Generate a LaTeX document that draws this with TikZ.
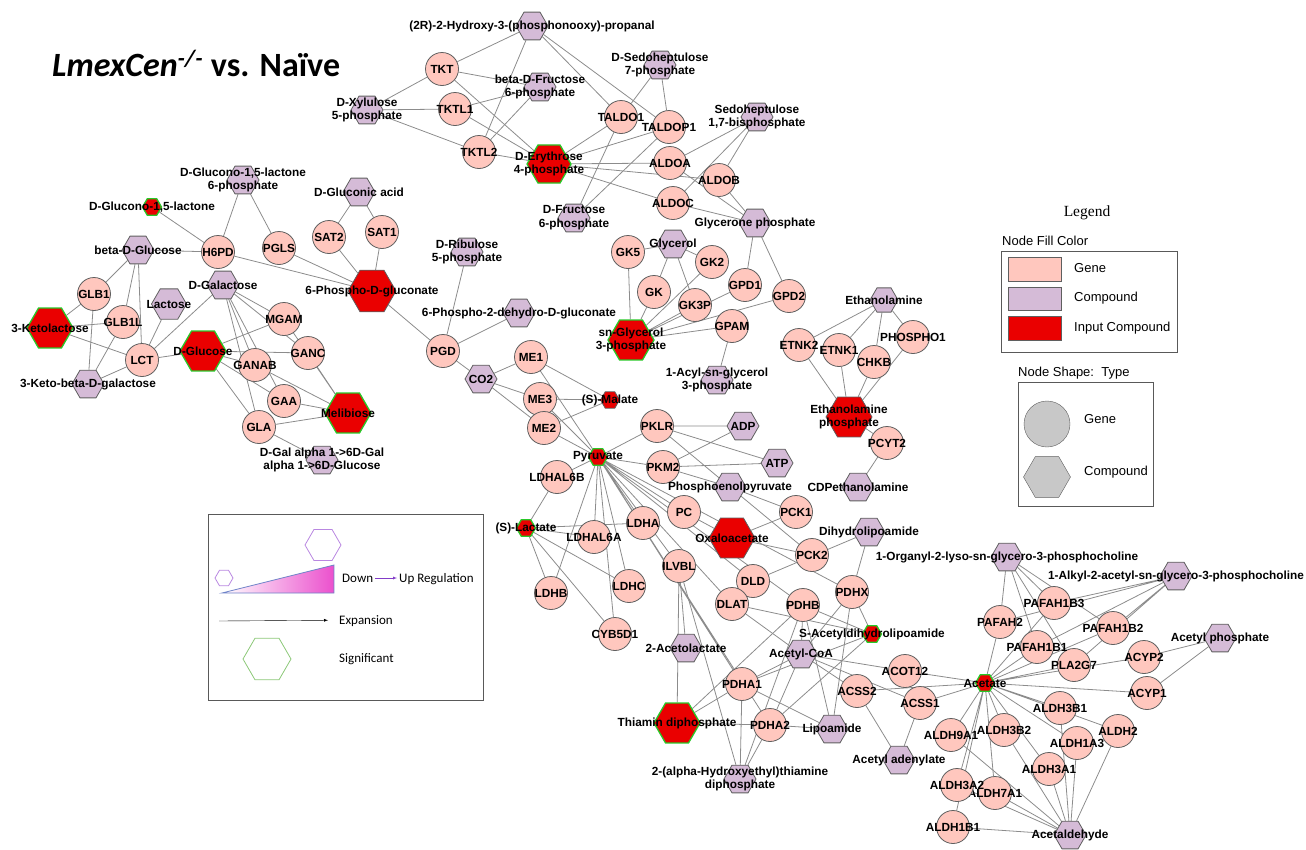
\documentclass[tikz,border=0pt]{standalone}
\usepackage{fontspec}
\setmainfont{Liberation Sans}
\newfontfamily\calibrifont{Carlito}
\newfontfamily\timesfont{Liberation Serif}
\usepackage{pgf,tikz}
\usetikzlibrary{shapes.geometric}
\usetikzlibrary{backgrounds}
\usetikzlibrary{arrows}

\definecolor{genefill}{RGB}{255,199,190}
\definecolor{cpdfill}{RGB}{213,187,215}
\definecolor{inred}{RGB}{234,0,0}
\definecolor{sigreen}{RGB}{40,200,40}
\definecolor{nodeline}{RGB}{95,95,95}
\definecolor{edgegray}{RGB}{140,140,140}
\definecolor{legviolet}{RGB}{185,135,225}
\definecolor{legpurple}{RGB}{130,60,200}
\definecolor{legblue}{RGB}{110,130,200}
\definecolor{leggreen}{RGB}{140,200,120}
\definecolor{upmagenta}{RGB}{235,80,205}
\definecolor{shapegray}{RGB}{200,200,200}

\tikzset{
  lbl/.style={font=\bfseries\fontsize{11.8}{13.8}\selectfont, align=center, inner sep=0pt},
  gene/.style={circle, draw=nodeline, fill=genefill, line width=0.8pt, minimum size=33pt, inner sep=0pt, label={[lbl]center:{#1}}},
  cpd/.style={regular polygon, regular polygon sides=6, draw=nodeline, fill=cpdfill, line width=0.8pt, minimum size=32pt, inner sep=0pt, label={[lbl]center:{#1}}},
  input/.style={cpd={#1}, fill=inred, minimum size=46pt},
  small/.style={minimum size=19pt},
  sig/.style={draw=sigreen, line width=1.3pt},
  edge/.style={draw=edgegray, line width=0.8pt},
  legtxt/.style={font=\fontsize{13}{15}\selectfont, inner sep=0pt, anchor=west, text height=9.3pt, text depth=0pt},
  keytxt/.style={font=\calibrifont\fontsize{13}{15}\selectfont, inner sep=0pt, anchor=west, text height=8.4pt, text depth=0pt},
  legbox/.style={draw=gray!70!black, line width=0.8pt},
}

\begin{document}
\begin{tikzpicture}[x=1pt, y=-1pt]
\useasboundingbox (0,0) rectangle (1306,849);
\node[anchor=base west, inner sep=0pt, font=\calibrifont\bfseries\fontsize{34}{38}\selectfont] (title) at (52,76) {\textit{LmexCen\textsuperscript{-/-}} vs. Naïve};

% pentose phosphate part
\node[cpd={(2R)-2-Hydroxy-3-(phosphonooxy)-propanal}] (prop) at (532,26) {};
\node[gene=TKT] (tkt) at (442,69) {};
\node[cpd={beta-D-Fructose\\6-phosphate}] (bfru) at (540,87) {};
\node[cpd={D-Xylulose\\5-phosphate}] (xyl) at (367,110) {};
\node[gene=TKTL1] (tktl1) at (455,109) {};
\node[gene=TKTL2] (tktl2) at (479,152) {};
\node[cpd={D-Sedoheptulose\\7-phosphate}] (s7p) at (660,65) {};
\node[gene=TALDO1] (taldo1) at (621,117) {};
\node[gene=TALDOP1] (taldop1) at (669,127) {};
\node[input={D-Erythrose\\4-phosphate}, sig, minimum size=44pt] (e4p) at (549,164) {};
\node[cpd={Sedoheptulose\\1,7-bisphosphate}] (sbp) at (757,117) {};
\node[gene=ALDOA] (aldoa) at (670,163) {};
\node[gene=ALDOB] (aldob) at (719,180) {};
\node[gene=ALDOC] (aldoc) at (673,203) {};
\node[cpd={D-Fructose\\6-phosphate}] (f6p) at (574,218) {};
\node[cpd={Glycerone phosphate}] (dhap) at (755,223) {};

% glycerol part
\node[cpd=Glycerol] (glyc) at (673,244) {};
\node[gene=GK5] (gk5) at (628,252) {};
\node[gene=GK2] (gk2) at (712,262) {};
\node[gene=GPD1] (gpd1) at (745,285) {};
\node[gene=GK] (gk) at (654,292) {};
\node[gene=GK3P] (gk3p) at (695,305) {};
\node[gene=GPD2] (gpd2) at (789,296) {};
\node[gene=GPAM] (gpam) at (732,326) {};
\node[input={sn-Glycerol\\3-phosphate}, sig] (g3p) at (631,340) {};
\node[cpd={1-Acyl-sn-glycerol\\3-phosphate}] (acyl) at (717,380) {};

% sugars
\node[cpd={D-Glucono-1,5-lactone\\6-phosphate}] (gdl6p) at (243,180) {};
\node[input={D-Glucono-1,5-lactone}, sig, small] (gdl) at (152,207) {};
\node[cpd=beta-D-Glucose] (bglc) at (138,250) {};
\node[gene=H6PD] (h6pd) at (218,252) {};
\node[gene=PGLS] (pgls) at (279,248) {};
\node[cpd={D-Gluconic acid}] (gluc) at (359,192) {};
\node[gene=SAT2] (sat2) at (329,237) {};
\node[gene=SAT1] (sat1) at (382,232) {};
\node[cpd={D-Ribulose\\5-phosphate}] (rib) at (467,252) {};
\node[input=6-Phospho-D-gluconate, minimum size=48pt] (pg6) at (372,291) {};
\node[cpd=D-Galactose] (gal) at (223,285) {};
\node[gene=GLB1] (glb1) at (94,294) {};
\node[cpd=Lactose, minimum size=35pt] (lac) at (169,304) {};
\node[gene=GLB1L] (glb1l) at (123,322) {};
\node[gene=MGAM] (mgam) at (284,319) {};
\node[input=3-Ketolactose, sig] (kl) at (50,328) {};
\node[gene=LCT] (lct) at (142,360) {};
\node[gene=GANC] (ganc) at (308,353) {};
\node[gene=GANAB] (ganab) at (255,365) {};
\node[input=D-Glucose, sig] (glc) at (203,351) {};
\node[cpd=3-Keto-beta-D-galactose] (kbg) at (88,384) {};
\node[gene=GAA] (gaa) at (284,401) {};
\node[gene=GLA] (gla) at (259,427) {};
\node[input=Melibiose, sig] (mel) at (348,413) {};
\node[cpd={D-Gal alpha 1->6D-Gal\\alpha 1->6D-Glucose}] (gga) at (322,460) {};

% pyruvate part
\node[gene=PGD] (pgd) at (443,351) {};
\node[cpd=6-Phospho-2-dehydro-D-gluconate] (pdg) at (519,313) {};
\node[cpd=CO2] (co2) at (481,379) {};
\node[gene=ME1] (me1) at (531,357) {};
\node[gene=ME3] (me3) at (540,399) {};
\node[gene=ME2] (me2) at (544,428) {};
\node[input=(S)-Malate, small] (mal) at (610,400) {};
\node[gene=PKLR] (pklr) at (657,426) {};
\node[cpd=ADP] (adp) at (743,426) {};
\node[gene=PKM2] (pkm2) at (663,467) {};
\node[cpd=ATP] (atp) at (777,463) {};
\node[cpd=Phosphoenolpyruvate] (pep) at (730,487) {};
\node[gene=LDHAL6B] (ldhal6b) at (557,477) {};
\node[input=Pyruvate, sig, small] (pyr) at (598,457) {};
\node[gene=PC] (pc) at (684,512) {};
\node[gene=PCK1] (pck1) at (796,512) {};
\node[gene=LDHA] (ldha) at (643,523) {};
\node[gene=LDHAL6A] (ldhal6a) at (594,537) {};
\node[input=(S)-Lactate, sig, small] (lacs) at (526,528) {};
\node[input=Oxaloacetate] (oaa) at (732,538) {};
\node[cpd=Dihydrolipoamide] (dhl) at (869,532) {};
\node[gene=PCK2] (pck2) at (812,555) {};
\node[gene=ILVBL] (ilvbl) at (679,566) {};
\node[gene=LDHC] (ldhc) at (629,586) {};
\node[gene=LDHB] (ldhb) at (551,593) {};
\node[gene=DLD] (dld) at (753,581) {};
\node[gene=DLAT] (dlat) at (732,604) {};
\node[gene=PDHB] (pdhb) at (803,605) {};
\node[gene=PDHX] (pdhx) at (852,592) {};
\node[gene=CYB5D1] (cyb) at (615,634) {};
\node[cpd=2-Acetolactate] (acl) at (686,648) {};
\node[cpd=Acetyl-CoA] (acoa) at (801,654) {};
\node[input=S-Acetyldihydrolipoamide, sig, small] (sadl) at (872,634) {};
\node[gene=PDHA1] (pdha1) at (742,684) {};
\node[gene=PDHA2] (pdha2) at (770,725) {};
\node[input=Thiamin diphosphate, sig] (tpp) at (677,723) {};
\node[cpd=Lipoamide] (lipo) at (832,729) {};
\node[cpd={2-(alpha-Hydroxyethyl)thiamine\\diphosphate}] (hetpp) at (740,779) {};

% ethanolamine part
\node[cpd=Ethanolamine, minimum size=28pt] (etn) at (884,300) {};
\node[gene=ETNK2] (etnk2) at (799,345) {};
\node[gene=ETNK1] (etnk1) at (839,350) {};
\node[gene=PHOSPHO1] (phospho1) at (913,337) {};
\node[gene=CHKB] (chkb) at (874,362) {};
\node[input={Ethanolamine\\phosphate}] (etp) at (849,417) {};
\node[gene=PCYT2] (pcyt2) at (887,443) {};
\node[cpd=CDPethanolamine] (cdp) at (858,487) {};

% acetate part
\node[gene=ACOT12] (acot12) at (905,671) {};
\node[gene=ACSS2] (acss2) at (857,691) {};
\node[gene=ACSS1] (acss1) at (920,703) {};
\node[cpd=Acetyl adenylate] (aad) at (899,760) {};
\node[cpd=1-Organyl-2-lyso-sn-glycero-3-phosphocholine] (org) at (1007,557) {};
\node[cpd=1-Alkyl-2-acetyl-sn-glycero-3-phosphocholine] (alk) at (1176,576) {};
\node[gene=PAFAH2] (pafah2) at (1000,622) {};
\node[gene=PAFAH1B3] (pafah1b3) at (1054,603) {};
\node[gene=PAFAH1B2] (pafah1b2) at (1113,628) {};
\node[gene=PLA2G7] (pla2g7) at (1074,665) {};
\node[gene=PAFAH1B1] (pafah1b1) at (1037,647) {};
\node[cpd=Acetyl phosphate] (acp) at (1220,638) {};
\node[gene=ACYP2] (acyp2) at (1144,657) {};
\node[gene=ACYP1] (acyp1) at (1147,693) {};
\node[input=Acetate, sig, small] (ac) at (985,683) {};
\node[gene=ALDH3B1] (aldh3b1) at (1060,708) {};
\node[gene=ALDH2] (aldh2) at (1118,731) {};
\node[gene=ALDH1A3] (aldh1a3) at (1077,743) {};
\node[gene=ALDH9A1] (aldh9a1) at (951,735) {};
\node[gene=ALDH3B2] (aldh3b2) at (1004,730) {};
\node[gene=ALDH3A1] (aldh3a1) at (1049,769) {};
\node[gene=ALDH7A1] (aldh7a1) at (995,793) {};
\node[gene=ALDH3A2] (aldh3a2) at (957,785) {};
\node[gene=ALDH1B1] (aldh1b1) at (953,827) {};
\node[cpd=Acetaldehyde] (acald) at (1070,835) {};

% connectors
\begin{scope}[on background layer]
\draw[edge] (prop) -- (tkt) (prop) -- (tktl2) (prop) -- (taldo1) (prop) -- (taldop1);
\draw[edge] (xyl) -- (tkt) (xyl) -- (tktl1) (xyl) -- (tktl2);
\draw[edge] (bfru) -- (tkt) (bfru) -- (tktl1) (bfru) -- (tktl2);
\draw[edge] (e4p) -- (tkt) (e4p) -- (tktl1) (e4p) -- (tktl2) (e4p) -- (taldo1) (e4p) -- (taldop1)
  (e4p) -- (aldoa) (e4p) -- (aldob) (e4p) -- (aldoc);
\draw[edge] (s7p) -- (taldo1) (s7p) -- (taldop1) (f6p) -- (taldo1) (f6p) -- (taldop1);
\draw[edge] (sbp) -- (aldoa) (sbp) -- (aldob) (sbp) -- (aldoc);
\draw[edge] (dhap) -- (aldoa) (dhap) -- (aldob) (dhap) -- (aldoc) (dhap) -- (gpd1) (dhap) -- (gpd2);
\draw[edge] (glyc) -- (gk5) (glyc) -- (gk) (glyc) -- (gk2) (glyc) -- (gk3p);
\draw[edge] (g3p) -- (gk5) (g3p) -- (gk) (g3p) -- (gk2) (g3p) -- (gk3p) (g3p) -- (gpd1)
  (g3p) -- (gpd2) (g3p) -- (gpam) (acyl) -- (gpam);
\draw[edge] (gdl) -- (h6pd) (gdl6p) -- (h6pd) (gdl6p) -- (pgls) (bglc) -- (h6pd);
\draw[edge] (pg6) -- (h6pd) (pg6) -- (pgls) (pg6) -- (sat2) (pg6) -- (sat1) (pg6) -- (pgd)
  (gluc) -- (sat2) (gluc) -- (sat1);
\draw[edge] (bglc) -- (glb1) (bglc) -- (glb1l) (bglc) -- (lct);
\draw[edge] (kl) -- (glb1) (kl) -- (glb1l) (kl) -- (lct);
\draw[edge] (kbg) -- (glb1) (kbg) -- (glb1l) (kbg) -- (lct);
\draw[edge] (lac) -- (lct) (gal) -- (lct) (glc) -- (lct);
\draw[edge] (gal) -- (mgam) (gal) -- (ganc) (gal) -- (ganab) (gal) -- (gaa) (gal) -- (gla);
\draw[edge] (glc) -- (mgam) (glc) -- (ganc) (glc) -- (ganab) (glc) -- (gaa) (glc) -- (gla);
\draw[edge] (mel) -- (mgam) (mel) -- (ganc) (mel) -- (ganab) (mel) -- (gaa) (mel) -- (gla);
\draw[edge] (gga) -- (gla);
\draw[edge] (pgd) -- (rib) (pgd) -- (pdg) (pgd) -- (co2);
\draw[edge] (co2) -- (me1) (co2) -- (me3) (co2) -- (me2);
\draw[edge] (mal) -- (me1) (mal) -- (me3) (mal) -- (me2);
\draw[edge] (pyr) -- (me1) (pyr) -- (me3) (pyr) -- (me2) (pyr) -- (pklr) (pyr) -- (pkm2)
  (pyr) -- (ldhal6b) (pyr) -- (ldhal6a) (pyr) -- (ldha) (pyr) -- (ldhb) (pyr) -- (ldhc)
  (pyr) -- (cyb) (pyr) -- (pc) (pyr) -- (ilvbl) (pyr) -- (dld) (pyr) -- (dlat)
  (pyr) -- (pdha1) (pyr) -- (pdha2) (pyr) -- (pdhb) (pyr) -- (pdhx);
\draw[edge] (adp) -- (pklr) (adp) -- (pkm2) (atp) -- (pklr) (atp) -- (pkm2);
\draw[edge] (pep) -- (pklr) (pep) -- (pkm2) (pep) -- (pck1) (pep) -- (pck2);
\draw[edge] (oaa) -- (pc) (oaa) -- (pck1) (oaa) -- (pck2);
\draw[edge] (lacs) -- (ldhal6b) (lacs) -- (ldhal6a) (lacs) -- (ldha) (lacs) -- (ldhb)
  (lacs) -- (ldhc) (lacs) -- (cyb);
\draw[edge] (acl) -- (ilvbl);
\draw[edge] (tpp) -- (ilvbl) (tpp) -- (pdha1) (tpp) -- (pdha2) (tpp) -- (pdhb);
\draw[edge] (hetpp) -- (ilvbl) (hetpp) -- (pdha1) (hetpp) -- (pdha2) (hetpp) -- (pdhb);
\draw[edge] (lipo) -- (pdha1) (lipo) -- (pdha2) (lipo) -- (pdhb) (lipo) -- (pdhx);
\draw[edge] (sadl) -- (pdhx) (sadl) -- (pdhb) (sadl) -- (dlat) (sadl) -- (pdha1) (sadl) -- (pdha2);
\draw[edge] (dhl) -- (dld) (dhl) -- (pdhx);
\draw[edge] (acoa) -- (pdha1) (acoa) -- (pdha2) (acoa) -- (pdhb) (acoa) -- (dlat) (acoa) -- (pdhx)
  (acoa) -- (acot12) (acoa) -- (acss2) (acoa) -- (acss1);
\draw[edge] (aad) -- (acss2) (aad) -- (acss1);
\draw[edge] (etn) -- (etnk2) (etn) -- (etnk1) (etn) -- (chkb) (etn) -- (phospho1);
\draw[edge] (etp) -- (etnk2) (etp) -- (etnk1) (etp) -- (chkb) (etp) -- (phospho1) (etp) -- (pcyt2)
  (cdp) -- (pcyt2);
\draw[edge] (org) -- (pafah2) (org) -- (pafah1b3) (org) -- (pafah1b1) (org) -- (pafah1b2) (org) -- (pla2g7);
\draw[edge] (alk) -- (pafah2) (alk) -- (pafah1b3) (alk) -- (pafah1b1) (alk) -- (pafah1b2) (alk) -- (pla2g7);
\draw[edge] (acp) -- (acyp2) (acp) -- (acyp1);
\draw[edge] (ac) -- (acot12) (ac) -- (acss2) (ac) -- (acss1) (ac) -- (pafah2) (ac) -- (pafah1b3)
  (ac) -- (pafah1b1) (ac) -- (pafah1b2) (ac) -- (pla2g7) (ac) -- (acyp2) (ac) -- (acyp1)
  (ac) -- (aldh3b1) (ac) -- (aldh9a1) (ac) -- (aldh3b2) (ac) -- (aldh1a3) (ac) -- (aldh2)
  (ac) -- (aldh3a1) (ac) -- (aldh3a2) (ac) -- (aldh7a1) (ac) -- (aldh1b1);
\draw[edge] (acald) -- (aldh3b1) (acald) -- (aldh9a1) (acald) -- (aldh3b2) (acald) -- (aldh1a3)
  (acald) -- (aldh2) (acald) -- (aldh3a1) (acald) -- (aldh3a2) (acald) -- (aldh7a1) (acald) -- (aldh1b1);
\end{scope}

% legend, right
\node[font=\timesfont\fontsize{15.5}{18}\selectfont] (legtitle) at (1087,213) {Legend};
\node[legtxt] (fillhead) at (1002,241) {Node Fill Color};
\draw[legbox] (1001,251) rectangle (1177,352);
\draw[draw=nodeline, fill=genefill] (1008,257) rectangle (1061,281);
\draw[draw=nodeline, fill=cpdfill] (1008,287) rectangle (1061,310);
\draw[draw=nodeline, fill=inred] (1008,316) rectangle (1061,340);
\node[legtxt] (genetxt) at (1074,268) {Gene};
\node[legtxt] (cpdtxt) at (1074,297) {Compound};
\node[legtxt] (inputtxt) at (1074,327) {Input Compound};
\node[legtxt] (shapehead) at (1018,372) {Node Shape:\ \ Type};
\draw[legbox] (1018,382) rectangle (1153,506);
\node[circle, draw=nodeline, fill=shapegray, minimum size=46pt, inner sep=0pt] (geneshape) at (1047,424) {};
\node[regular polygon, regular polygon sides=6, draw=nodeline, fill=shapegray, minimum size=47pt, inner sep=0pt] (cpdshape) at (1047,477) {};
\node[legtxt] (geneshapetxt) at (1084,419) {Gene};
\node[legtxt] (cpdshapetxt) at (1084,471) {Compound};

% legend, left
\draw[legbox] (208,514) rectangle (483,700);
\node[regular polygon, regular polygon sides=6, draw=legviolet, line width=0.8pt, minimum size=18pt, inner sep=0pt] (downhex) at (224,578) {};
\node[regular polygon, regular polygon sides=6, draw=legviolet, line width=0.8pt, minimum size=36pt, inner sep=0pt] (uphex) at (323,545) {};
\shade[left color=white, right color=upmagenta] (222,593) -- (334,565) -- (334,593) -- cycle;
\draw[legblue, line width=0.8pt] (222,593) -- (334,565) -- (334,593) -- cycle;
\node[keytxt] (down) at (342,578) {Down};
\node[keytxt] (up) at (399,578) {Up Regulation};
\draw[legpurple, -latex, shorten <=2pt, shorten >=2pt] (down) -- (up);
\coordinate (expstart) at (219,621);
\node[keytxt] (expansion) at (339,620) {Expansion};
\draw[-latex, shorten >=11pt] (expstart) -- (expansion);
\node[regular polygon, regular polygon sides=6, draw=leggreen, line width=0.8pt, minimum size=48pt, inner sep=0pt] (sighex) at (267,659) {};
\node[keytxt] (significant) at (339,658) {Significant};
\end{tikzpicture}
\end{document}
